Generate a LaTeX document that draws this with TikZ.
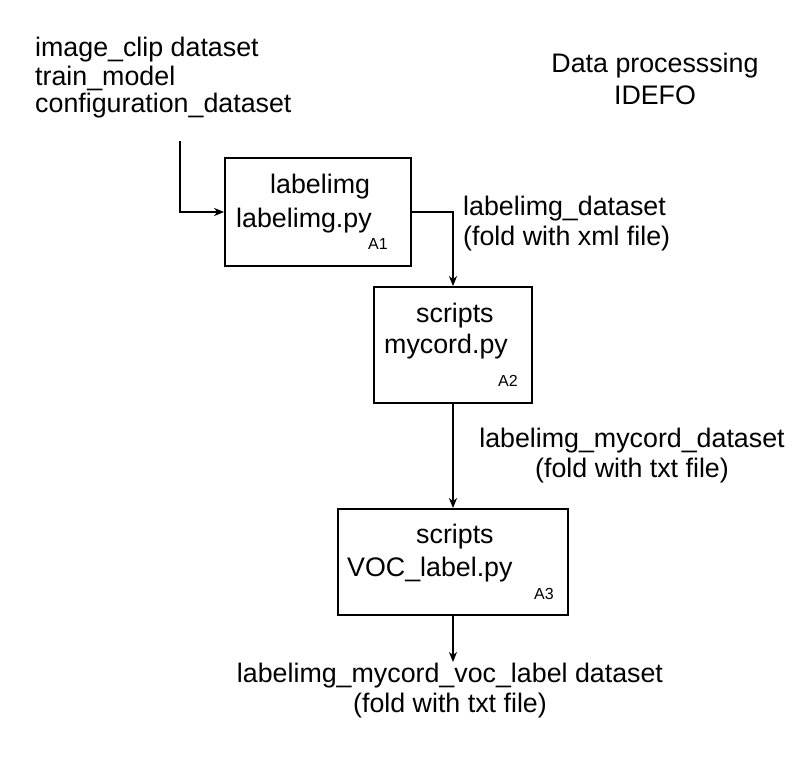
\documentclass[tikz,border=0pt]{standalone}
\usepackage{fontspec}
\setmainfont{Liberation Sans}
\usetikzlibrary{arrows.meta}
\begin{document}
\begin{tikzpicture}[x=1pt,y=-1pt,
  txt/.style={inner sep=0pt,font=\fontsize{26.8}{30}\selectfont},
  small/.style={inner sep=0pt,font=\fontsize{16}{18}\selectfont},
  box/.style={draw,line width=1.8pt,inner sep=0pt},
  conn/.style={line width=1.4pt,-{Stealth[length=10pt,width=8pt,inset=3pt]}}]
\useasboundingbox (0,0) rectangle (801,776);
% boxes
\node[box,minimum width=186pt,minimum height=108pt] (b1) at (318,212) {};
\node[box,minimum width=158pt,minimum height=116pt] (b2) at (453,345) {};
\node[box,minimum width=230pt,minimum height=106pt] (b3) at (453,562) {};
% box texts
\node[txt,anchor=base west] (b1t1) at (270,193) {labelimg};
\node[txt,anchor=base west] (b1t2) at (236,227) {labelimg.py};
\node[small,anchor=base west] (b1a) at (368,249) {A1};
\node[txt,anchor=base west] (b2t1) at (416,322) {scripts};
\node[txt,anchor=base west] (b2t2) at (384,353) {mycord.py};
\node[small,anchor=base west] (b2a) at (498,386) {A2};
\node[txt,anchor=base west] (b3t1) at (416,543) {scripts};
\node[txt,anchor=base west] (b3t2) at (347,576) {VOC\_label.py};
\node[small,anchor=base west] (b3a) at (534,599) {A3};
% free texts
\node[txt,anchor=base west] (in1) at (35,57) {image\_clip dataset};
\node[txt,anchor=base west] (in2) at (35,85) {train\_model};
\node[txt,anchor=base west] (in3) at (35,113) {configuration\_dataset};
\node[txt,anchor=base] (title1) at (655,73) {Data processsing};
\node[txt,anchor=base] (title2) at (655,105) {IDEFO};
\node[txt,anchor=base west] (l1a) at (463,215) {labelimg\_dataset};
\node[txt,anchor=base west] (l1b) at (463,245) {(fold with xml file)};
\node[txt,anchor=base] (l2a) at (632,447) {labelimg\_mycord\_dataset};
\node[txt,anchor=base] (l2b) at (632,477) {(fold with txt file)};
\node[txt,anchor=base] (l3a) at (450,682) {labelimg\_mycord\_voc\_label dataset};
\node[txt,anchor=base] (l3b) at (450,712) {(fold with txt file)};
% connectors
\coordinate (start) at (180,141);
\coordinate (finish) at (453,662);
\draw[conn] (start) |- (b1.west);
\draw[conn] (b1.east) -| (b2.north);
\draw[conn] (b2.south) -- (b3.north);
\draw[conn] (b3.south) -- (finish);
\end{tikzpicture}
\end{document}
